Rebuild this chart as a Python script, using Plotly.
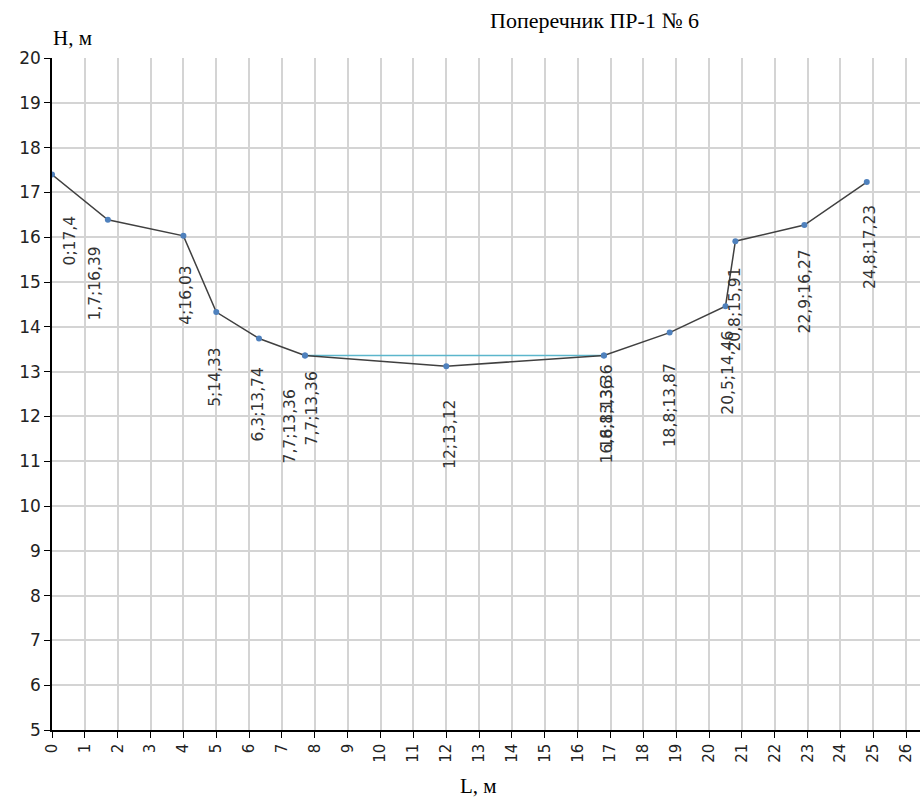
import plotly.graph_objects as go

# Cross-section profile: distance L (m) and elevation H (m)
dist_m = [0, 1.7, 4, 5, 6.3, 7.7, 12, 16.8, 18.8, 20.5, 20.8, 22.9, 24.8]
elev_m = [17.4, 16.39, 16.03, 14.33, 13.74, 13.36, 13.12, 13.36, 13.87, 14.46, 15.91, 16.27, 17.23]

# Water level line
water_dist_m = [7.7, 16.8]
water_elev_m = [13.36, 13.36]

title_text = "Поперечник ПР-1 № 6"
x_title = "L, м"
y_title = "H, м"
x_ticks = list(range(0, 27))
y_ticks = list(range(5, 21))

# pixel nudges (dx, gap below point) for each data label
profile_label_nudge = [(18, 39), (-13, 25), (3, 28), (-2, 34), (-1, 27), (7, 14), (3, 32),
                       (4, 7), (0, 29), (3, 23), (0, 24), (1, 22), (3, 21)]
water_label_nudge = [(-15, 32), (4, 22)]


def fmt(v):
    return f"{v:g}".replace(".", ",")


SANS = "DejaVu Sans, Verdana, sans-serif"
SERIF = "Liberation Serif, Times New Roman, serif"
LABEL_FONT = dict(family=SANS, size=15.5, color="#333333")

fig = go.Figure()

fig.add_trace(go.Scatter(
    x=water_dist_m, y=water_elev_m, mode="lines+markers",
    line=dict(color="#5cb6cc", width=1.5),
    marker=dict(color="#4f81bd", size=6),
    hoverinfo="skip", showlegend=False,
))
fig.add_trace(go.Scatter(
    x=dist_m, y=elev_m, mode="lines+markers",
    line=dict(color="#404040", width=1.5),
    marker=dict(color="#4f81bd", size=6),
    hoverinfo="skip", showlegend=False,
))

annotations = []
for xs, ys, nudges in ((dist_m, elev_m, profile_label_nudge),
                       (water_dist_m, water_elev_m, water_label_nudge)):
    for x, y, (dx, gap) in zip(xs, ys, nudges):
        annotations.append(dict(
            x=x, y=y, xref="x", yref="y", text=f"{fmt(x)};{fmt(y)}",
            showarrow=False, textangle=-90, xanchor="center", yanchor="top",
            xshift=dx, yshift=-gap, font=LABEL_FONT,
        ))

annotations += [
    dict(text=title_text, xref="paper", yref="paper", x=(594 - 52) / 868, y=1,
         xanchor="center", yanchor="middle", yshift=38, showarrow=False,
         font=dict(family=SERIF, size=22, color="#000000")),
    dict(text=y_title, xref="paper", yref="paper", x=0, y=1, xanchor="left",
         yanchor="middle", xshift=-1, yshift=20, showarrow=False,
         font=dict(family=SERIF, size=21, color="#000000")),
    dict(text=x_title, xref="paper", yref="paper", x=(478 - 52) / 868, y=0,
         xanchor="center", yanchor="middle", yshift=-56, showarrow=False,
         font=dict(family=SERIF, size=21, color="#000000")),
]

fig.update_layout(
    width=920, height=799,
    margin=dict(l=52, r=0, t=58, b=69),
    paper_bgcolor="white", plot_bgcolor="white",
    annotations=annotations,
    xaxis=dict(
        range=[0, 26.42], tickvals=x_ticks, tickangle=-90,
        showgrid=True, gridcolor="#d4d4d4", gridwidth=1.5,
        showline=True, linecolor="#000000", linewidth=1.5,
        ticks="outside", ticklen=6, tickcolor="#000000",
        tickfont=dict(family=SANS, size=15, color="#222222"),
        zeroline=False,
    ),
    yaxis=dict(
        range=[5, 20], tickvals=y_ticks,
        showgrid=True, gridcolor="#d4d4d4", gridwidth=1.5,
        showline=True, linecolor="#000000", linewidth=1.5,
        ticks="outside", ticklen=6, tickcolor="#000000",
        tickfont=dict(family=SANS, size=17, color="#222222"),
        zeroline=False,
    ),
)

fig.write_html("out.html")
